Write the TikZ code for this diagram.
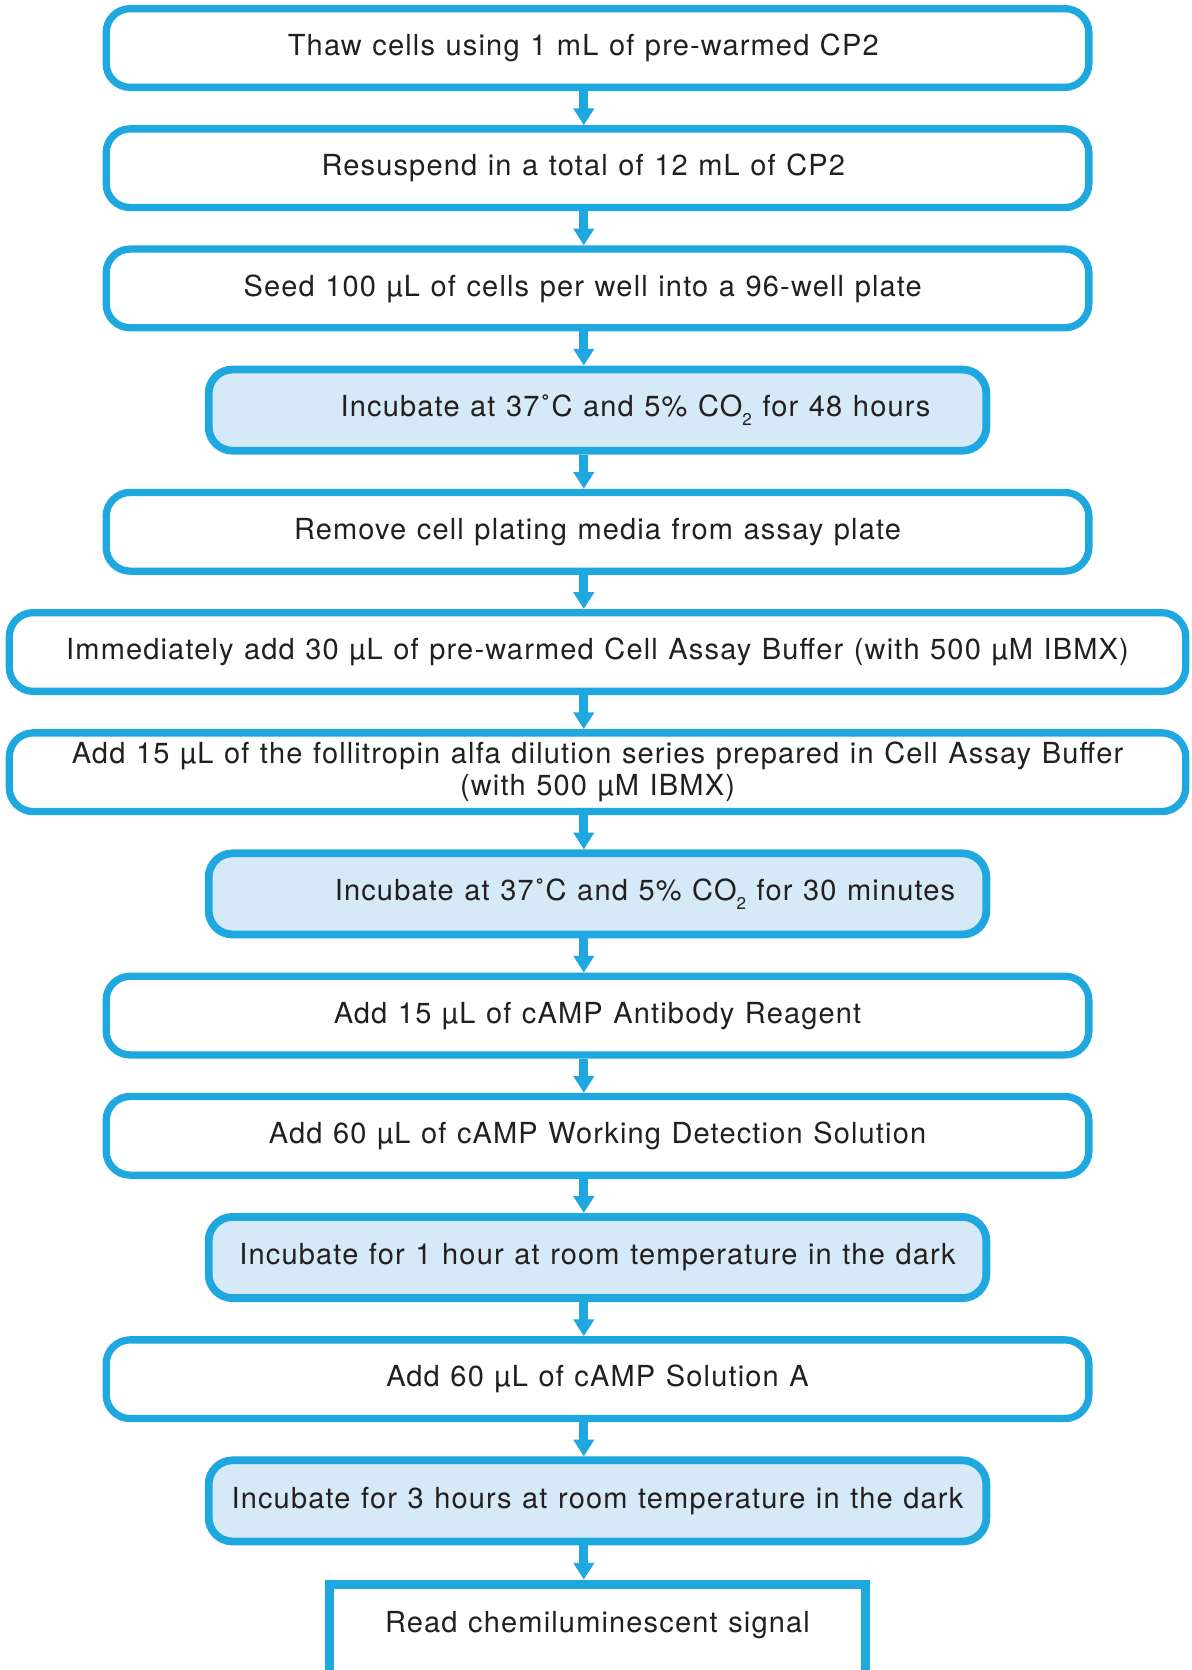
\documentclass[tikz,border=0pt]{standalone}
\usepackage{fontspec}
\setmainfont{TeX Gyre Heros}[WordSpace=1.15, LetterSpace=4]
\usepackage{tikz}
\usetikzlibrary{positioning, arrows.meta}
\definecolor{flowblue}{HTML}{1FA8E0}
\definecolor{incfill}{HTML}{D6E9F6}
\definecolor{inktext}{HTML}{231F20}
\newcommand{\cotwo}{CO\raisebox{-4.5pt}{\fontsize{8.5pt}{8.5pt}\selectfont 2}}

\begin{document}
\begin{tikzpicture}[
    font=\fontsize{14.5pt}{16pt}\selectfont, text=inktext,
    node distance=17.1pt,
    stepbox/.style={draw=flowblue, line width=3.65pt, rounded corners=12pt, minimum width=491.35pt, minimum height=39.35pt},
    incbox/.style={stepbox, fill=incfill, line width=3.9pt, minimum width=388.85pt, minimum height=40.6pt},
    widebox/.style={stepbox, minimum width=588.2pt},
    readbox/.style={draw=flowblue, line width=4.5pt, minimum width=268.25pt, minimum height=55pt},
    flow/.style={draw=flowblue, line width=4.5pt, -{Triangle[width=10pt, length=8.4pt]}}
]
    \useasboundingbox (0,0) rectangle (595.5pt,-835pt);
    \fill [white] (0,0) rectangle (595.5pt,-835pt);
    \coordinate (axis) at (291.9pt,0);

    \node (thaw) at (298.75pt,-24pt) [stepbox, label={[xshift=-7.1pt]center:Thaw cells using 1 mL of pre-warmed CP2}] {};
    \node (resus) [stepbox, below=of thaw, label={[xshift=-7.1pt]center:Resuspend in a total of 12 mL of CP2}] {};
    \node (seed) [stepbox, below=of resus, label={[xshift=-7.4pt]center:Seed 100 µL of cells per well into a 96-well plate}] {};
    \node (incA) [incbox, below=of seed, label={[xshift=19pt]center:Incubate at 37˚C and 5\% \cotwo{} for 48 hours}] {};
    \node (remove) [stepbox, below=of incA, label=center:Remove cell plating media from assay plate] {};
    \node (addbuf) [widebox, below=of remove, label=center:Immediately add 30 µL of pre-warmed Cell Assay Buffer (with 500 µM IBMX)] {};
    \node (addfsh) [widebox, below=of addbuf, label={[align=center]center:Add 15 µL of the follitropin alfa dilution series prepared in Cell Assay Buffer\\(with 500 µM IBMX)}] {};
    \node (incB) [incbox, below=of addfsh, label={[xshift=23.75pt]center:Incubate at 37˚C and 5\% \cotwo{} for 30 minutes}] {};
    \node (addab) [stepbox, below=of incB, label=center:Add 15 µL of cAMP Antibody Reagent] {};
    \node (adddet) [stepbox, below=of addab, label=center:Add 60 µL of cAMP Working Detection Solution] {};
    \node (incC) [incbox, below=of adddet, label=center:Incubate for 1 hour at room temperature in the dark] {};
    \node (addsolA) [stepbox, below=of incC, label=center:Add 60 µL of cAMP Solution A] {};
    \node (incD) [incbox, below=of addsolA, label=center:Incubate for 3 hours at room temperature in the dark] {};
    \node (read) [readbox, below=of incD, label={[yshift=7pt]center:Read chemiluminescent signal}] {};

    % arrows between steps
    \draw [flow] (thaw.south -| axis) -- (resus.north -| axis);
    \draw [flow] (resus.south -| axis) -- (seed.north -| axis);
    \draw [flow] (seed.south -| axis) -- (incA.north -| axis);
    \draw [flow] (incA.south -| axis) -- (remove.north -| axis);
    \draw [flow] (remove.south -| axis) -- (addbuf.north -| axis);
    \draw [flow] (addbuf.south -| axis) -- (addfsh.north -| axis);
    \draw [flow] (addfsh.south -| axis) -- (incB.north -| axis);
    \draw [flow] (incB.south -| axis) -- (addab.north -| axis);
    \draw [flow] (addab.south -| axis) -- (adddet.north -| axis);
    \draw [flow] (adddet.south -| axis) -- (incC.north -| axis);
    \draw [flow] (incC.south -| axis) -- (addsolA.north -| axis);
    \draw [flow] (addsolA.south -| axis) -- (incD.north -| axis);
    \draw [flow] (incD.south -| axis) -- (read.north -| axis);
\end{tikzpicture}
\end{document}
